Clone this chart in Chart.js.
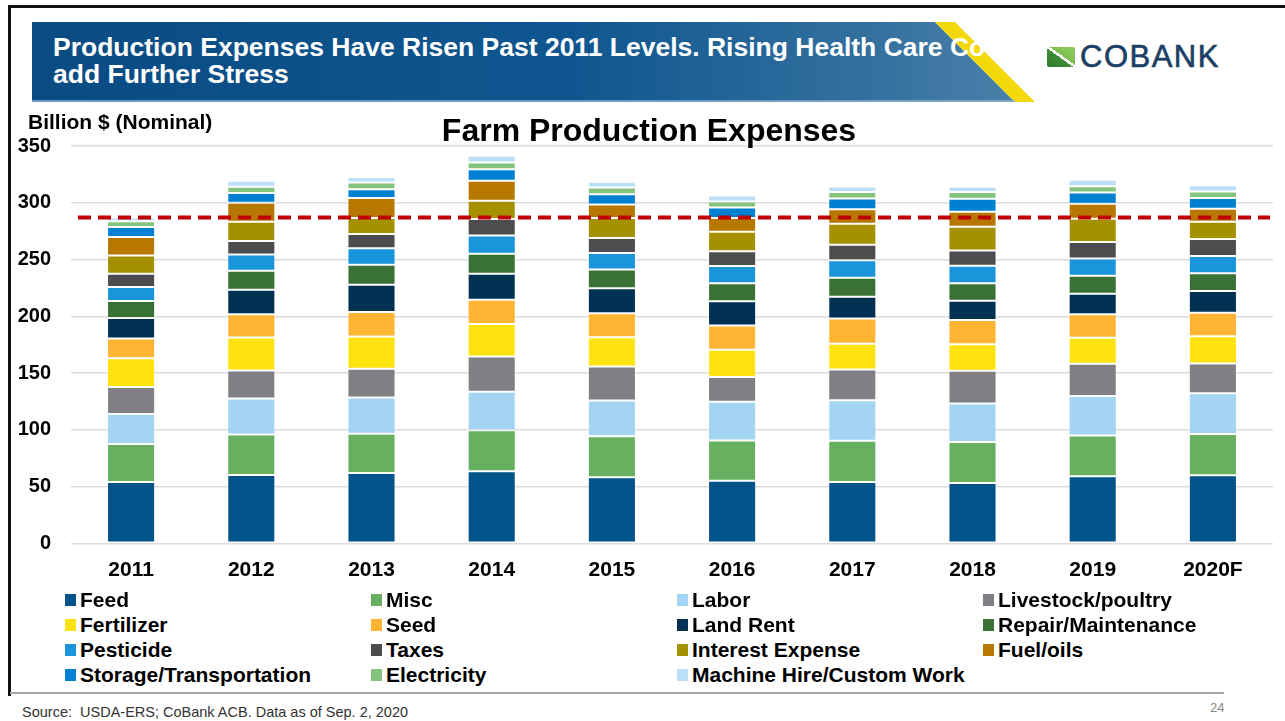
<!DOCTYPE html>
<html>
<head>
<meta charset="utf-8">
<title>Farm Production Expenses</title>
<script src="https://cdn.jsdelivr.net/npm/chart.js@4.4.0/dist/chart.umd.min.js"></script>
<style>
body { margin: 0; background: #fff; font-family: 'Liberation Sans', Arial, sans-serif; }
#slide { position: relative; width: 1285px; height: 721px; overflow: hidden; background: #fff; }
#frame { position: absolute; left: 8px; top: 5px; width: 1300px; height: 688px; border-top: 3px solid #111; border-left: 3px solid #111; }
#banner { position: absolute; left: 0; top: 0; }
#head { position: absolute; left: 53px; top: 34px; width: 960px; overflow: hidden; color: #fff; font-weight: bold; font-size: 26.5px; line-height: 26.5px; white-space: nowrap; }
#logoIcon { position: absolute; left: 1047px; top: 47px; width: 28px; height: 20px; border-radius: 2px;
  background: linear-gradient(to top right, #2c7a2e 0%, #3f8d36 47%, #ffffff 47%, #ffffff 55%, #7cbf50 55%, #8fcb5e 100%); }
#logoText { position: absolute; left: 1080px; top: 39px; font-size: 31px; line-height: 36px; letter-spacing: 1.5px; color: #1c3f66; -webkit-text-stroke: 0.6px #1c3f66; }
#chartWrap { position: absolute; left: 0; top: 114px; width: 1285px; height: 476px; }
#yTitle { position: absolute; left: 28px; top: 109px; font-size: 21px; font-weight: bold; line-height: 26px; color: #000; }
#title { position: absolute; left: 0; width: 1298px; top: 112px; text-align: center; font-size: 32px; font-weight: bold; line-height: 36px; color: #000; }
#legend { position: absolute; left: 65px; top: 587px; width: 1224px; }
.item { position: absolute; height: 25px; display: flex; align-items: center; font-size: 21px; font-weight: bold; color: #000; white-space: nowrap; }
.item i { display: inline-block; width: 11px; height: 12px; margin-right: 4px; margin-top: 1px; }
#footLine { position: absolute; left: 10px; top: 692px; width: 1214px; height: 2px; background: #a6a6a6; }
#source { position: absolute; left: 22px; top: 704px; font-size: 14.5px; color: #333; }
#page { position: absolute; left: 1210px; top: 700px; font-size: 13px; color: #888; }
</style>
</head>
<body>
<div id="slide">
  <div id="frame"></div>
  <svg id="banner" width="1285" height="110">
    <defs>
      <linearGradient id="bg" x1="0" y1="0" x2="1" y2="0">
        <stop offset="0" stop-color="#0a4b83"/>
        <stop offset="0.55" stop-color="#0f5690"/>
        <stop offset="0.85" stop-color="#33709e"/>
        <stop offset="1" stop-color="#4a80a9"/>
      </linearGradient>
    </defs>
    <polygon points="32,22 935,22 1015,102 32,102" fill="url(#bg)"/>
    <polygon points="935,22 955,22 1035,102 1015,102" fill="#f4d90a"/>
    <line x1="32" y1="101" x2="1015" y2="101" stroke="#8fb3d1" stroke-width="1.5"/>
  </svg>
  <div id="head">Production Expenses Have Risen Past 2011 Levels. Rising Health Care Co<br>add Further Stress</div>
  <div id="logoIcon"></div>
  <div id="logoText">COBANK</div>

  <div id="chartWrap"><canvas id="myChart"></canvas></div>
  <div id="yTitle">Billion $ (Nominal)</div>
  <div id="title">Farm Production Expenses</div>
  <div id="legend"></div>

  <div id="footLine"></div>
  <div id="source">Source:&nbsp; USDA-ERS; CoBank ACB. Data as of Sep. 2, 2020</div>
  <div id="page">24</div>
</div>

<script>
// values in billion $
var years = ['2011', '2012', '2013', '2014', '2015', '2016', '2017', '2018', '2019', '2020F'];

var feed       = [54.1, 60.2, 62.0, 63.5, 58.2, 55.0, 54.1, 53.2, 59.1, 59.9];
var misc       = [33.4, 35.7, 34.5, 36.2, 36.0, 35.6, 36.3, 36.0, 35.9, 36.3];
var labor      = [26.5, 31.6, 31.9, 33.9, 31.5, 34.0, 35.6, 33.9, 34.8, 36.0];
var livestock  = [23.7, 24.8, 25.4, 31.0, 30.1, 21.9, 27.2, 28.9, 28.4, 26.3];
var fertilizer = [25.3, 29.0, 28.4, 28.7, 25.8, 24.0, 22.5, 23.4, 22.8, 24.0];
var seed       = [17.5, 20.5, 21.6, 21.3, 21.0, 21.3, 22.3, 21.4, 20.8, 20.7];
var landRent   = [18.0, 21.6, 24.0, 22.8, 22.0, 21.4, 19.3, 16.9, 18.1, 19.0];
var repair     = [15.0, 16.7, 17.5, 17.6, 16.6, 16.0, 16.6, 15.5, 15.8, 15.8];
var pesticide  = [12.2, 14.3, 14.6, 16.2, 14.6, 15.1, 15.5, 15.2, 15.2, 15.2];
var taxes      = [11.7, 12.0, 12.6, 14.4, 13.2, 12.9, 13.5, 13.5, 14.6, 14.9];
var interest   = [16.2, 16.9, 14.0, 16.2, 17.5, 17.2, 18.7, 21.0, 20.5, 15.2];
var fuel       = [16.2, 16.7, 17.6, 17.5, 12.0, 12.1, 12.6, 13.2, 13.1, 11.4];
var storage    = [ 8.8,  8.5,  7.9, 10.2,  9.0,  9.4,  9.6, 11.4, 10.0,  9.4];
var electric   = [ 5.2,  5.5,  5.8,  6.0,  5.9,  5.2,  5.6,  5.9,  5.5,  5.8];
var machine    = [ 3.2,  5.3,  4.8,  6.0,  5.0,  5.3,  4.9,  4.6,  5.6,  5.6];

var seriesNames = ['Feed', 'Misc', 'Labor', 'Livestock/poultry', 'Fertilizer', 'Seed', 'Land Rent',
    'Repair/Maintenance', 'Pesticide', 'Taxes', 'Interest Expense', 'Fuel/oils',
    'Storage/Transportation', 'Electricity', 'Machine Hire/Custom Work'];
var seriesData = [feed, misc, labor, livestock, fertilizer, seed, landRent, repair,
    pesticide, taxes, interest, fuel, storage, electric, machine];

// 2011 total, dashed line
var level2011 = 287;

var yMin = 0, yMax = 350, yStep = 50;

var colors = ['#02538a', '#66b060', '#a3d5f3', '#807f84', '#ffe310', '#ffb533', '#003152',
    '#3a7135', '#1a94da', '#4d4d4f', '#a59100', '#b67800', '#0080d0', '#86c37f', '#badff7'];

Chart.defaults.font.family = "'Liberation Sans', Arial, sans-serif";
Chart.defaults.color = '#000';

var datasets = [];
for (var i = 0; i < seriesNames.length; i++) {
    datasets.push({
        label: seriesNames[i],
        data: seriesData[i],
        backgroundColor: colors[i],
        borderColor: 'rgba(255,255,255,0.35)',
        borderWidth: 1,
        borderSkipped: false,
        categoryPercentage: 1,
        barPercentage: 0.4
    });
}

var refLine = {
    id: 'refLine',
    afterDatasetsDraw: function (chart) {
        var ctx = chart.ctx;
        var area = chart.chartArea;
        var y = chart.scales.y.getPixelForValue(level2011);
        ctx.save();
        ctx.strokeStyle = '#c00000';
        ctx.lineWidth = 4;
        ctx.setLineDash([13, 7]);
        ctx.beginPath();
        ctx.moveTo(area.left + 7, y);
        ctx.lineTo(area.right - 3, y);
        ctx.stroke();
        ctx.restore();
    }
};

var myChart = new Chart(document.getElementById('myChart'), {
    type: 'bar',
    data: { labels: years, datasets: datasets },
    options: {
        responsive: true,
        maintainAspectRatio: false,
        animation: false,
        layout: { padding: { top: 0, right: 12, left: 0, bottom: 0 } },
        plugins: { legend: { display: false }, tooltip: { enabled: false } },
        scales: {
            x: {
                stacked: true,
                grid: { display: false, drawTicks: false },
                border: { display: false },
                ticks: { font: { size: 21, weight: 'bold' }, padding: 14 },
                afterFit: function (s) { s.height = 46.7; }
            },
            y: {
                stacked: true,
                min: yMin, max: yMax,
                grid: { color: '#dcdcdc', lineWidth: 1.5, drawTicks: false },
                border: { display: false },
                ticks: { stepSize: yStep, font: { size: 20, weight: 'bold' }, padding: 20 },
                afterFit: function (s) { s.width = 71; }
            }
        }
    },
    plugins: [refLine]
});

// legend, 4 columns, row by row
var leg = document.getElementById('legend');
for (var k = 0; k < seriesNames.length; k++) {
    var d = document.createElement('div');
    d.className = 'item';
    d.style.left = (k % 4) * 306 + 'px';
    d.style.top = Math.floor(k / 4) * 25 + 'px';
    d.innerHTML = '<i style="background:' + colors[k] + '"></i>' + seriesNames[k];
    leg.appendChild(d);
}
</script>
</body>
</html>
